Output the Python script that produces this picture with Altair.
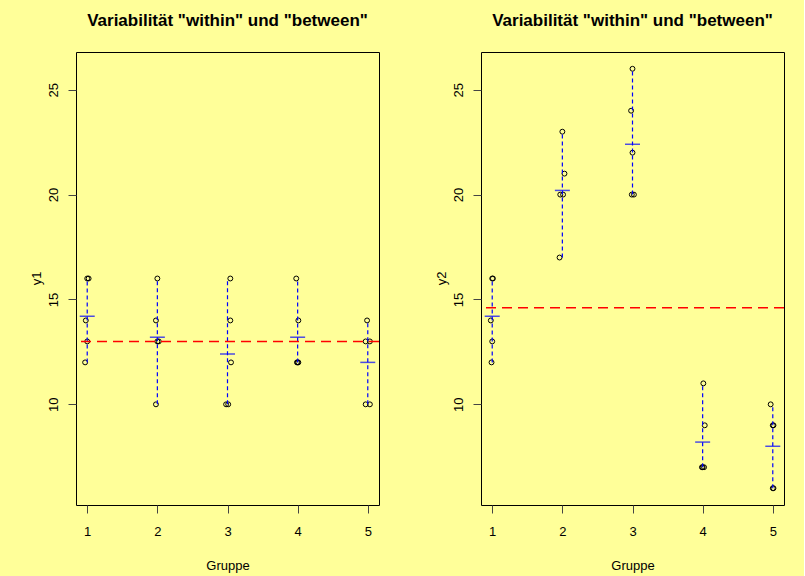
import altair as alt
import pandas as pd

# ---- data ----
groups = [1, 2, 3, 4, 5]
y1_values = [
    [16, 16, 14, 13, 12],
    [16, 14, 13, 13, 10],
    [16, 14, 12, 10, 10],
    [16, 14, 12, 12, 12],
    [14, 13, 13, 10, 10],
]
y1_jitter = [
    [0.0, 0.02, -0.02, 0.0, -0.03],
    [0.0, -0.02, 0.0, 0.02, -0.02],
    [0.04, 0.04, 0.05, -0.02, 0.01],
    [-0.02, 0.01, -0.01, 0.0, 0.01],
    [-0.01, -0.03, 0.03, -0.03, 0.03],
]
y2_values = [
    [16, 16, 14, 13, 12],
    [23, 21, 20, 20, 17],
    [26, 24, 22, 20, 20],
    [11, 9, 7, 7, 7],
    [10, 9, 9, 6, 6],
]
y2_jitter = [
    [0.0, 0.01, -0.02, 0.0, -0.01],
    [0.0, 0.03, -0.03, 0.01, -0.04],
    [0.0, -0.02, 0.0, -0.01, 0.02],
    [0.01, 0.03, -0.01, 0.0, 0.02],
    [-0.03, 0.0, 0.01, 0.0, 0.01],
]
x_ticks = [1, 2, 3, 4, 5]
y_ticks = [10, 15, 20, 25]
title_text = 'Variabilität "within" und "between"'
x_title = "Gruppe"

FONT = "Liberation Sans"


def X(field):
    return alt.X(
        f"{field}:Q",
        scale=alt.Scale(domain=[0.84, 5.16], nice=False, zero=False),
        axis=alt.Axis(
            values=x_ticks, format="d", title=x_title, grid=False, domain=False,
            tickSize=8, labelPadding=12, labelFontSize=13, labelFont=FONT,
            labelColor="black", tickColor="#444",
            titleFont=FONT, titleFontSize=13, titleFontWeight="normal",
            titleColor="black", titleY=60, titleBaseline="middle",
        ),
    )


def Y(field, ylab):
    return alt.Y(
        f"{field}:Q",
        scale=alt.Scale(domain=[5.2, 26.8], nice=False, zero=False),
        axis=alt.Axis(
            values=y_ticks, format="d", title=ylab, grid=False, domain=False,
            tickSize=8, labelPadding=11, labelFontSize=13, labelFont=FONT,
            labelColor="black", tickColor="#444", labelAngle=270,
            labelAlign="center", labelBaseline="alphabetic",
            titleFont=FONT, titleFontSize=13, titleFontWeight="normal",
            titleColor="black", titleX=-40, titleY=226, titleAngle=270,
            titleAlign="center", titleBaseline="middle",
        ),
    )


def panel(values, jitter, ylab):
    rows = []
    for g, vals, jit in zip(groups, values, jitter):
        for v, j in zip(vals, jit):
            rows.append({"g": g, "xj": g + j, "y": v})
    df = pd.DataFrame(rows)
    stats = df.groupby("g")["y"].agg(["mean", "min", "max"]).reset_index()
    stats.columns = ["g", "m", "ymin", "ymax"]
    gm = pd.DataFrame({"gm": [df["y"].mean()]})

    rng = alt.Chart(stats).mark_rule(
        color="blue", strokeDash=[4, 3], strokeWidth=1.2
    ).encode(x=X("g"), y=Y("ymin", ylab), y2="ymax:Q")
    pts = alt.Chart(df).mark_point(
        shape="circle", filled=False, color="black", size=24, strokeWidth=1, opacity=1
    ).encode(x=X("xj"), y=Y("y", ylab))
    mean = alt.Chart(stats).mark_tick(
        orient="horizontal", color="blue", size=15, thickness=1.5
    ).encode(x=X("g"), y=Y("m", ylab))
    grand = alt.Chart(gm).mark_rule(
        color="red", strokeDash=[10, 6], strokeWidth=1.5
    ).encode(y=Y("gm", ylab))

    return alt.layer(pts, rng, mean, grand).properties(
        width=303,
        height=453,
        title=alt.TitleParams(
            text=title_text, font=FONT, fontSize=17, fontWeight="bold",
            color="black", anchor="middle", offset=22,
        ),
    )


left = panel(y1_values, y1_jitter, "y1")
right = panel(y2_values, y2_jitter, "y2")

chart = alt.hconcat(left, right, spacing=102, bounds="flush").properties(
    padding={"left": 29, "top": 11, "right": 18, "bottom": 3},
    background="#FFFF99",
).configure_view(stroke="black", strokeWidth=1)

chart.save("out.html", embed_options={"renderer": "svg", "actions": False})
